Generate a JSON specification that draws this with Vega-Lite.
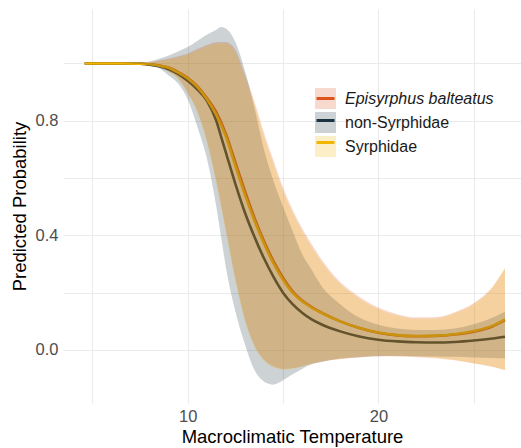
{
  "$schema": "https://vega.github.io/schema/vega-lite/v6.json",
  "width": 458,
  "height": 394,
  "autosize": {"type": "none"},
  "padding": {"left": 63, "top": 9, "right": 0, "bottom": 45},
  "background": "white",
  "config": {"view": {"stroke": null}, "font": "Liberation Sans"},
  "datasets": {
    "curves": [
      {"group":"Episyrphus balteatus","x":4.6,"fit":1,"lo":1,"hi":1},
      {"group":"Episyrphus balteatus","x":5.5,"fit":1,"lo":1,"hi":1},
      {"group":"Episyrphus balteatus","x":6.5,"fit":1,"lo":1,"hi":1},
      {"group":"Episyrphus balteatus","x":7.5,"fit":0.999,"lo":0.999,"hi":1.001},
      {"group":"Episyrphus balteatus","x":8.0,"fit":0.997,"lo":0.996,"hi":1.004},
      {"group":"Episyrphus balteatus","x":8.5,"fit":0.993,"lo":0.989,"hi":1.01},
      {"group":"Episyrphus balteatus","x":9.0,"fit":0.986,"lo":0.972,"hi":1.017},
      {"group":"Episyrphus balteatus","x":9.5,"fit":0.97,"lo":0.948,"hi":1.025},
      {"group":"Episyrphus balteatus","x":10.0,"fit":0.95,"lo":0.898,"hi":1.035},
      {"group":"Episyrphus balteatus","x":10.5,"fit":0.921,"lo":0.835,"hi":1.05},
      {"group":"Episyrphus balteatus","x":11.0,"fit":0.88,"lo":0.733,"hi":1.064},
      {"group":"Episyrphus balteatus","x":11.5,"fit":0.83,"lo":0.59,"hi":1.074},
      {"group":"Episyrphus balteatus","x":12.0,"fit":0.755,"lo":0.42,"hi":1.075},
      {"group":"Episyrphus balteatus","x":12.5,"fit":0.655,"lo":0.25,"hi":1.048},
      {"group":"Episyrphus balteatus","x":13.0,"fit":0.555,"lo":0.108,"hi":0.962},
      {"group":"Episyrphus balteatus","x":13.5,"fit":0.462,"lo":0.016,"hi":0.868},
      {"group":"Episyrphus balteatus","x":14.0,"fit":0.38,"lo":-0.034,"hi":0.758},
      {"group":"Episyrphus balteatus","x":14.5,"fit":0.31,"lo":-0.057,"hi":0.662},
      {"group":"Episyrphus balteatus","x":15.0,"fit":0.252,"lo":-0.066,"hi":0.567},
      {"group":"Episyrphus balteatus","x":15.5,"fit":0.205,"lo":-0.064,"hi":0.49},
      {"group":"Episyrphus balteatus","x":16.0,"fit":0.173,"lo":-0.057,"hi":0.425},
      {"group":"Episyrphus balteatus","x":16.5,"fit":0.15,"lo":-0.048,"hi":0.37},
      {"group":"Episyrphus balteatus","x":17.0,"fit":0.131,"lo":-0.041,"hi":0.318},
      {"group":"Episyrphus balteatus","x":18.0,"fit":0.1,"lo":-0.032,"hi":0.237},
      {"group":"Episyrphus balteatus","x":19.0,"fit":0.077,"lo":-0.026,"hi":0.186},
      {"group":"Episyrphus balteatus","x":20.0,"fit":0.06,"lo":-0.022,"hi":0.148},
      {"group":"Episyrphus balteatus","x":21.0,"fit":0.051,"lo":-0.023,"hi":0.125},
      {"group":"Episyrphus balteatus","x":22.0,"fit":0.048,"lo":-0.025,"hi":0.114},
      {"group":"Episyrphus balteatus","x":23.0,"fit":0.049,"lo":-0.029,"hi":0.115},
      {"group":"Episyrphus balteatus","x":24.0,"fit":0.054,"lo":-0.036,"hi":0.132},
      {"group":"Episyrphus balteatus","x":25.0,"fit":0.064,"lo":-0.047,"hi":0.164},
      {"group":"Episyrphus balteatus","x":26.0,"fit":0.083,"lo":-0.059,"hi":0.222},
      {"group":"Episyrphus balteatus","x":26.64,"fit":0.104,"lo":-0.07,"hi":0.285},

      {"group":"non-Syrphidae","x":4.6,"fit":1,"lo":1,"hi":1},
      {"group":"non-Syrphidae","x":5.5,"fit":1,"lo":1,"hi":1},
      {"group":"non-Syrphidae","x":6.5,"fit":1,"lo":1,"hi":1},
      {"group":"non-Syrphidae","x":7.5,"fit":0.999,"lo":0.998,"hi":1.002},
      {"group":"non-Syrphidae","x":8.0,"fit":0.996,"lo":0.993,"hi":1.007},
      {"group":"non-Syrphidae","x":8.5,"fit":0.99,"lo":0.983,"hi":1.016},
      {"group":"non-Syrphidae","x":9.0,"fit":0.98,"lo":0.958,"hi":1.028},
      {"group":"non-Syrphidae","x":9.5,"fit":0.963,"lo":0.93,"hi":1.042},
      {"group":"non-Syrphidae","x":10.0,"fit":0.94,"lo":0.875,"hi":1.057},
      {"group":"non-Syrphidae","x":10.5,"fit":0.91,"lo":0.78,"hi":1.078},
      {"group":"non-Syrphidae","x":11.0,"fit":0.87,"lo":0.67,"hi":1.1},
      {"group":"non-Syrphidae","x":11.5,"fit":0.8,"lo":0.5,"hi":1.118},
      {"group":"non-Syrphidae","x":11.75,"fit":0.745,"lo":0.395,"hi":1.127},
      {"group":"non-Syrphidae","x":12.0,"fit":0.69,"lo":0.29,"hi":1.122},
      {"group":"non-Syrphidae","x":12.5,"fit":0.58,"lo":0.135,"hi":1.075},
      {"group":"non-Syrphidae","x":13.0,"fit":0.48,"lo":0.02,"hi":0.975},
      {"group":"non-Syrphidae","x":13.5,"fit":0.395,"lo":-0.07,"hi":0.845},
      {"group":"non-Syrphidae","x":14.0,"fit":0.32,"lo":-0.11,"hi":0.7},
      {"group":"non-Syrphidae","x":14.5,"fit":0.255,"lo":-0.121,"hi":0.59},
      {"group":"non-Syrphidae","x":15.0,"fit":0.2,"lo":-0.106,"hi":0.5},
      {"group":"non-Syrphidae","x":15.5,"fit":0.16,"lo":-0.085,"hi":0.415},
      {"group":"non-Syrphidae","x":16.0,"fit":0.13,"lo":-0.066,"hi":0.335},
      {"group":"non-Syrphidae","x":16.5,"fit":0.107,"lo":-0.05,"hi":0.28},
      {"group":"non-Syrphidae","x":17.0,"fit":0.09,"lo":-0.042,"hi":0.225},
      {"group":"non-Syrphidae","x":18.0,"fit":0.065,"lo":-0.03,"hi":0.16},
      {"group":"non-Syrphidae","x":19.0,"fit":0.047,"lo":-0.025,"hi":0.113},
      {"group":"non-Syrphidae","x":20.0,"fit":0.036,"lo":-0.022,"hi":0.088},
      {"group":"non-Syrphidae","x":21.0,"fit":0.03,"lo":-0.021,"hi":0.075},
      {"group":"non-Syrphidae","x":22.0,"fit":0.027,"lo":-0.022,"hi":0.07},
      {"group":"non-Syrphidae","x":23.0,"fit":0.026,"lo":-0.023,"hi":0.07},
      {"group":"non-Syrphidae","x":24.0,"fit":0.028,"lo":-0.024,"hi":0.075},
      {"group":"non-Syrphidae","x":25.0,"fit":0.033,"lo":-0.026,"hi":0.09},
      {"group":"non-Syrphidae","x":26.0,"fit":0.04,"lo":-0.028,"hi":0.113},
      {"group":"non-Syrphidae","x":26.64,"fit":0.046,"lo":-0.029,"hi":0.134},

      {"group":"Syrphidae","x":4.6,"fit":1,"lo":1,"hi":1},
      {"group":"Syrphidae","x":5.5,"fit":1,"lo":1,"hi":1},
      {"group":"Syrphidae","x":6.5,"fit":1,"lo":1,"hi":1},
      {"group":"Syrphidae","x":7.5,"fit":0.999,"lo":0.999,"hi":1.001},
      {"group":"Syrphidae","x":8.0,"fit":0.997,"lo":0.996,"hi":1.004},
      {"group":"Syrphidae","x":8.5,"fit":0.992,"lo":0.988,"hi":1.009},
      {"group":"Syrphidae","x":9.0,"fit":0.985,"lo":0.97,"hi":1.015},
      {"group":"Syrphidae","x":9.5,"fit":0.968,"lo":0.945,"hi":1.022},
      {"group":"Syrphidae","x":10.0,"fit":0.948,"lo":0.895,"hi":1.031},
      {"group":"Syrphidae","x":10.5,"fit":0.918,"lo":0.83,"hi":1.046},
      {"group":"Syrphidae","x":11.0,"fit":0.876,"lo":0.725,"hi":1.06},
      {"group":"Syrphidae","x":11.5,"fit":0.82,"lo":0.58,"hi":1.07},
      {"group":"Syrphidae","x":12.0,"fit":0.745,"lo":0.41,"hi":1.07},
      {"group":"Syrphidae","x":12.5,"fit":0.642,"lo":0.24,"hi":1.04},
      {"group":"Syrphidae","x":13.0,"fit":0.542,"lo":0.1,"hi":0.95},
      {"group":"Syrphidae","x":13.5,"fit":0.452,"lo":0.01,"hi":0.855},
      {"group":"Syrphidae","x":14.0,"fit":0.372,"lo":-0.038,"hi":0.745},
      {"group":"Syrphidae","x":14.5,"fit":0.302,"lo":-0.06,"hi":0.65},
      {"group":"Syrphidae","x":15.0,"fit":0.245,"lo":-0.069,"hi":0.555},
      {"group":"Syrphidae","x":15.5,"fit":0.2,"lo":-0.066,"hi":0.48},
      {"group":"Syrphidae","x":16.0,"fit":0.17,"lo":-0.058,"hi":0.415},
      {"group":"Syrphidae","x":16.5,"fit":0.148,"lo":-0.048,"hi":0.36},
      {"group":"Syrphidae","x":17.0,"fit":0.13,"lo":-0.04,"hi":0.31},
      {"group":"Syrphidae","x":18.0,"fit":0.1,"lo":-0.031,"hi":0.23},
      {"group":"Syrphidae","x":19.0,"fit":0.077,"lo":-0.024,"hi":0.18},
      {"group":"Syrphidae","x":20.0,"fit":0.061,"lo":-0.02,"hi":0.143},
      {"group":"Syrphidae","x":21.0,"fit":0.052,"lo":-0.021,"hi":0.12},
      {"group":"Syrphidae","x":22.0,"fit":0.049,"lo":-0.023,"hi":0.109},
      {"group":"Syrphidae","x":23.0,"fit":0.05,"lo":-0.027,"hi":0.11},
      {"group":"Syrphidae","x":24.0,"fit":0.055,"lo":-0.035,"hi":0.128},
      {"group":"Syrphidae","x":25.0,"fit":0.066,"lo":-0.046,"hi":0.16},
      {"group":"Syrphidae","x":26.0,"fit":0.085,"lo":-0.058,"hi":0.22},
      {"group":"Syrphidae","x":26.64,"fit":0.107,"lo":-0.07,"hi":0.285}
    ]
  },
  "data": {"name": "curves"},
  "encoding": {
    "x": {
      "field": "x",
      "type": "quantitative",
      "scale": {"domain": [3.46, 27.48], "nice": false, "zero": false},
      "axis": {
        "title": "Macroclimatic Temperature",
        "values": [5, 10, 15, 20, 25],
        "labelExpr": "datum.value % 10 == 0 ? datum.label : ''",
        "ticks": false,
        "domain": false,
        "grid": true,
        "gridColor": "#ebebeb",
        "gridWidth": 1.1,
        "labelFontSize": 16.5,
        "labelColor": "#4d4d4d",
        "labelPadding": 5,
        "titleFontSize": 18.5,
        "titleFontWeight": "normal",
        "titleColor": "#000000",
        "titlePadding": 3
      }
    }
  },
  "layer": [
    {
      "transform": [{"filter": "datum.fit != null"}],
      "mark": {"type": "line", "strokeWidth": 2.6, "interpolate": "monotone", "clip": true},
      "encoding": {
        "y": {
          "field": "fit",
          "type": "quantitative",
          "scale": {"domain": [-0.185, 1.19], "nice": false, "zero": false},
          "axis": {
            "title": "Predicted Probability",
            "values": [0, 0.2, 0.4, 0.6, 0.8, 1.0],
            "labelExpr": "round(datum.value * 10) % 4 == 0 ? format(datum.value, '.1f') : ''",
            "ticks": false,
            "domain": false,
            "grid": true,
            "gridColor": "#ebebeb",
            "gridWidth": 1.1,
            "labelFontSize": 16.5,
            "labelColor": "#4d4d4d",
            "labelPadding": 5,
            "titleFontSize": 18.5,
            "titleFontWeight": "normal",
            "titleColor": "#000000",
            "titlePadding": 6
          }
        },
        "stroke": {
          "field": "group",
          "type": "nominal",
          "sort": ["Episyrphus balteatus", "non-Syrphidae", "Syrphidae"],
          "scale": {"range": ["#e0541c", "#1b3340", "#f3b600"]},
          "legend": {
            "title": null,
            "orient": "none",
            "legendX": 252,
            "legendY": 79,
            "padding": 0,
            "symbolType": "stroke",
            "symbolSize": 324,
            "symbolStrokeWidth": 3,
            "labelExpr": "''",
            "labelFontSize": 16,
            "labelOffset": 9,
            "rowPadding": 3
          }
        }
      }
    },
    {
      "mark": {"type": "area", "opacity": 0.22, "interpolate": "monotone", "clip": true},
      "encoding": {
        "y": {"field": "hi", "type": "quantitative", "title": "Predicted Probability"},
        "y2": {"field": "lo"},
        "fill": {
          "field": "group",
          "type": "nominal",
          "sort": ["Episyrphus balteatus", "non-Syrphidae", "Syrphidae"],
          "scale": {"range": ["#e0541c", "#1b3340", "#f3b600"]},
          "legend": {
            "title": null,
            "orient": "none",
            "legendX": 252,
            "legendY": 79,
            "padding": 0,
            "symbolType": "square",
            "symbolSize": 441,
            "symbolStrokeWidth": 0,
            "symbolOpacity": 0.22,
            "labelFontSize": 16,
            "labelColor": "#1a1a1a",
            "labelOffset": 9,
            "rowPadding": 3,
            "encode": {
              "labels": {
                "update": {
                  "fontStyle": {"signal": "datum.label === 'Episyrphus balteatus' ? 'italic' : 'normal'"}
                }
              }
            }
          }
        }
      }
    }
  ]
}
